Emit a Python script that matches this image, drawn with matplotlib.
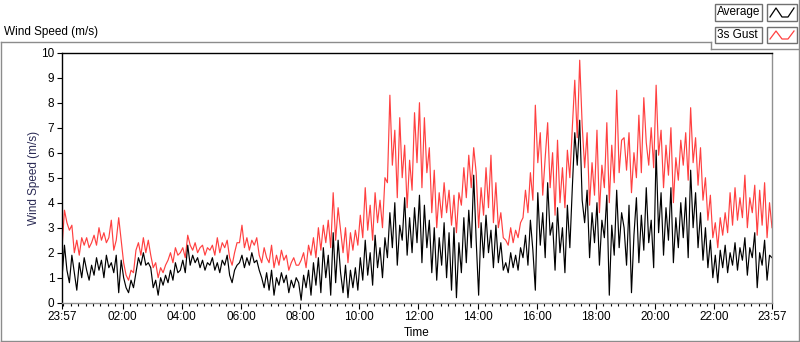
import numpy as np
import matplotlib
matplotlib.use("Agg")
import matplotlib.pyplot as plt
from matplotlib.lines import Line2D
from matplotlib.patches import Rectangle

plt.rcParams['font.family'] = ['Liberation Sans', 'DejaVu Sans']

# 5-minute samples, starting 23:57, one row per hour
avg = [
    1.0, 2.3, 1.3, 0.8, 1.9, 1.2, 0.5, 1.6, 1.0, 1.8, 1.3, 0.9,
    1.5, 1.1, 1.8, 1.3, 1.7, 1.0, 1.9, 1.4, 1.6, 1.2, 1.9, 0.4,
    1.7, 1.0, 0.6, 0.4, 0.9, 0.6, 1.2, 1.8, 1.5, 2.0, 1.5, 1.6,
    1.4, 0.6, 0.9, 0.3, 1.0, 0.7, 1.1, 0.8, 1.3, 0.9, 1.6, 1.2,
    1.3, 1.7, 1.2, 2.3, 1.5, 1.9, 1.6, 1.8, 1.4, 1.7, 1.3, 1.6,
    1.5, 1.8, 1.3, 1.6, 1.2, 1.7, 1.5, 1.9, 1.1, 0.8, 1.3, 1.5,
    1.6, 1.9, 1.4, 1.8, 1.5, 2.0, 1.6, 1.7, 1.3, 1.0, 0.6, 1.2,
    0.5, 1.3, 0.3, 1.0, 0.7, 1.2, 0.8, 1.1, 0.4, 0.9, 0.6, 1.0,
    0.8, 0.1, 1.1, 0.6, 1.3, 0.3, 1.6, 0.7, 1.8, 0.4, 2.2, 1.0,
    1.9, 0.3, 2.8, 0.8, 2.5, 1.2, 0.4, 1.5, 0.2, 1.3, 0.6, 1.4,
    0.5, 1.8, 0.9, 2.5, 1.1, 2.0, 0.7, 2.7, 1.4, 2.2, 1.0, 2.6,
    1.8, 3.6, 2.2, 4.0, 1.5, 3.1, 2.5, 4.2, 1.9, 3.4, 2.0, 3.8,
    2.4, 4.3, 1.6, 3.9, 2.2, 3.3, 1.2, 3.0, 0.9, 2.6, 1.5, 3.2,
    1.0, 2.8, 0.5, 3.0, 0.2, 2.4, 1.2, 3.4, 1.6, 3.7, 2.2, 5.1,
    2.5, 0.3, 3.2, 1.8, 3.5, 2.0, 2.9, 1.4, 3.1, 1.6, 2.4, 1.3,
    1.6, 1.2, 2.0, 1.4, 1.9, 1.3, 2.2, 1.8, 2.7, 1.5, 3.3, 2.1,
    0.5, 4.4, 2.3, 3.6, 1.8, 4.8, 2.7, 3.2, 1.3, 3.8, 2.0, 3.0,
    1.2, 3.9, 2.2, 4.6, 6.8, 5.5, 7.3, 4.1, 3.2, 4.5, 1.8, 3.6,
    2.4, 4.0, 1.5, 3.3, 2.6, 4.3, 0.3, 3.1, 1.9, 4.5, 2.2, 3.6,
    3.0, 1.5, 3.9, 0.4, 2.7, 4.2, 1.6, 3.5, 2.1, 4.6, 2.4, 3.3,
    1.4, 6.1, 2.8, 4.4, 1.9, 3.8, 2.5, 4.6, 1.6, 3.4, 2.2, 4.0,
    2.6, 4.2, 1.8, 5.3, 3.0, 4.4, 2.2, 3.6, 1.7, 3.0, 1.4, 2.5,
    1.0, 1.9, 0.8, 2.1, 1.4, 2.3, 1.2, 2.0, 1.5, 2.4, 1.3, 2.2,
    1.7, 2.6, 1.1, 2.2, 1.8, 2.8, 0.6, 2.0, 1.5, 2.5, 0.9, 1.9,
    1.8]

gust = [
    2.2, 3.7, 3.2, 2.9, 3.1, 2.0, 2.5, 1.9, 2.6, 2.3, 2.6, 2.2,
    2.4, 2.7, 2.3, 3.0, 2.5, 2.8, 2.4, 2.6, 3.3, 2.1, 2.5, 3.4,
    2.5, 1.6, 1.1, 0.9, 1.3, 1.2, 2.1, 2.4, 1.9, 2.6, 2.0, 2.5,
    1.9, 1.4, 1.6, 1.0, 1.4, 1.2, 1.5, 1.7, 2.0, 1.6, 2.2, 1.9,
    2.0, 2.2, 1.8, 2.7, 2.3, 2.1, 2.4, 2.0, 2.2, 2.3, 1.9, 2.2,
    2.1, 2.3, 1.9, 2.6, 2.0, 2.4, 2.2, 2.5, 1.8, 1.5, 2.0, 2.4,
    2.4, 3.1, 2.2, 2.6, 2.1, 2.5, 2.3, 2.6, 1.9, 1.6, 2.2, 1.8,
    1.6, 2.3, 1.4, 1.9, 1.5, 2.1, 1.7, 1.9, 1.3, 1.6, 1.8, 1.5,
    1.5, 1.7, 2.0, 1.4, 2.3, 1.9, 2.6, 1.8, 3.0, 2.1, 3.1, 2.4,
    3.3, 2.2, 4.4, 2.5, 3.8, 2.9, 2.0, 3.0, 1.6, 2.8, 2.1, 2.9,
    2.3, 3.5, 2.6, 4.6, 2.9, 3.9, 2.5, 4.4, 3.2, 4.1, 3.0, 5.0,
    4.8, 8.3, 5.5, 6.9, 4.2, 7.4, 5.0, 6.3, 3.8, 5.7, 4.5, 7.6,
    5.6, 8.0, 4.6, 7.4, 5.2, 6.2, 3.6, 5.3, 3.0, 4.4, 3.4, 4.8,
    3.6, 4.5, 3.1, 4.3, 2.8, 4.4, 3.9, 5.4, 4.2, 5.9, 4.6, 6.2,
    5.2, 3.0, 4.6, 3.5, 5.4, 3.8, 5.9, 3.2, 4.8, 3.0, 3.6, 2.6,
    2.5, 2.3, 3.0, 2.4, 2.9, 2.6, 3.2, 3.4, 4.5, 3.6, 5.2, 4.1,
    7.9, 5.6, 6.8, 4.3, 5.8, 7.2, 4.6, 6.0, 3.5, 6.5, 4.0, 5.4,
    3.8, 6.1, 5.0, 7.0, 8.9, 6.6, 9.7, 7.1, 5.4, 6.8, 3.9, 5.6,
    4.3, 6.9, 3.6, 5.5, 4.6, 7.2, 4.0, 6.3, 4.8, 8.5, 5.2, 6.5,
    6.6, 5.3, 6.8, 4.4, 6.0, 5.0, 7.5, 5.2, 8.2, 6.4, 5.5, 7.0,
    5.4, 8.7, 5.9, 6.9, 4.6, 6.3, 5.1, 7.0, 4.0, 5.8, 4.9, 6.5,
    5.5, 6.8, 4.9, 7.8, 5.6, 6.6, 4.7, 6.2, 4.1, 5.0, 3.3, 4.3,
    2.6, 3.2, 2.2, 3.4, 2.7, 3.6, 2.8, 4.4, 3.1, 4.6, 3.3, 4.2,
    3.4, 5.1, 3.0, 4.2, 3.6, 4.7, 2.7, 4.5, 3.1, 4.8, 2.6, 4.0,
    3.0]

minutes = np.arange(0, 1441, 5)  # minutes since 23:57

tick_pos = [0, 123, 243, 363, 483, 603, 723, 843, 963, 1083, 1203, 1323, 1440]
tick_lab = ['23:57', '02:00', '04:00', '06:00', '08:00', '10:00', '12:00',
            '14:00', '16:00', '18:00', '20:00', '22:00', '23:57']

W, H = 800, 342
fig = plt.figure(figsize=(W / 100, H / 100), dpi=100)

def fx(x):
    return x / W

def fy(y):
    return 1 - y / H

# plot area
ax = fig.add_axes([fx(62), fy(302.7), fx(772) - fx(62), fy(52.7) - fy(302.7)])
ax.plot(minutes, gust, color='#ff4040', lw=0.85)
ax.plot(minutes, avg, color='black', lw=0.85)
ax.set_xlim(0, 1440)
ax.set_ylim(0, 10)
ax.set_yticks(range(0, 11))
ax.set_xticks(tick_pos)
ax.set_xticklabels(tick_lab)
ax.set_xticks(np.arange(3, 1440, 15), minor=True)
ax.tick_params(axis='both', labelsize=8.5, colors='black', width=0.8)
ax.tick_params(axis='x', which='major', length=4, pad=2)
ax.tick_params(axis='x', which='minor', length=2.5, width=0.8)
ax.tick_params(axis='y', length=3.5, pad=2)
for s in ['top', 'left']:
    ax.spines[s].set_color('black')
    ax.spines[s].set_linewidth(1.0)
for s in ['right', 'bottom']:
    ax.spines[s].set_color('#909090')
    ax.spines[s].set_linewidth(1.0)
ax.set_xlabel('Time', fontsize=8.5, labelpad=3)
ax.set_ylabel('Wind Speed (m/s)', fontsize=8.5, color='#2b2b55', labelpad=1)

# outer panel frame
gray = '#8c8c8c'
frame = [((0.5, 42), (711, 42)), ((711, 42), (711, 49)), ((711, 49), (799, 49)),
         ((799, 0), (799, 341)), ((0.5, 42), (0.5, 341)), ((0.5, 341), (799, 341))]
for (x0, y0), (x1, y1) in frame:
    fig.add_artist(Line2D([fx(x0), fx(x1)], [fy(y0), fy(y1)], color=gray, lw=1.0))

fig.text(fx(4), fy(32), 'Wind Speed (m/s)', fontsize=8.5, va='center', ha='left')

# legend boxes
names = ['Average', '3s Gust']
colors = ['black', '#ff4040']
rows = [(4, 21), (27, 43)]
for name, col, (y0, y1) in zip(names, colors, rows):
    fig.add_artist(Rectangle((fx(715), fy(y1)), fx(762) - fx(715), fy(y0) - fy(y1),
                             facecolor='white', edgecolor='#707070', lw=1.0))
    fig.text(fx(717), fy((y0 + y1) / 2), name, fontsize=8.5, va='center', ha='left')
    fig.add_artist(Rectangle((fx(767), fy(y1)), fx(797) - fx(767), fy(y0) - fy(y1),
                             facecolor='white', edgecolor='#707070', lw=1.0))
    zx = [770, 776, 782, 788, 794]
    zy = [y1 - 4, y0 + 4, y1 - 4, y1 - 4, y0 + 4]
    fig.add_artist(Line2D([fx(v) for v in zx], [fy(v) for v in zy], color=col, lw=0.9))

fig.savefig('out.png', dpi=100)
